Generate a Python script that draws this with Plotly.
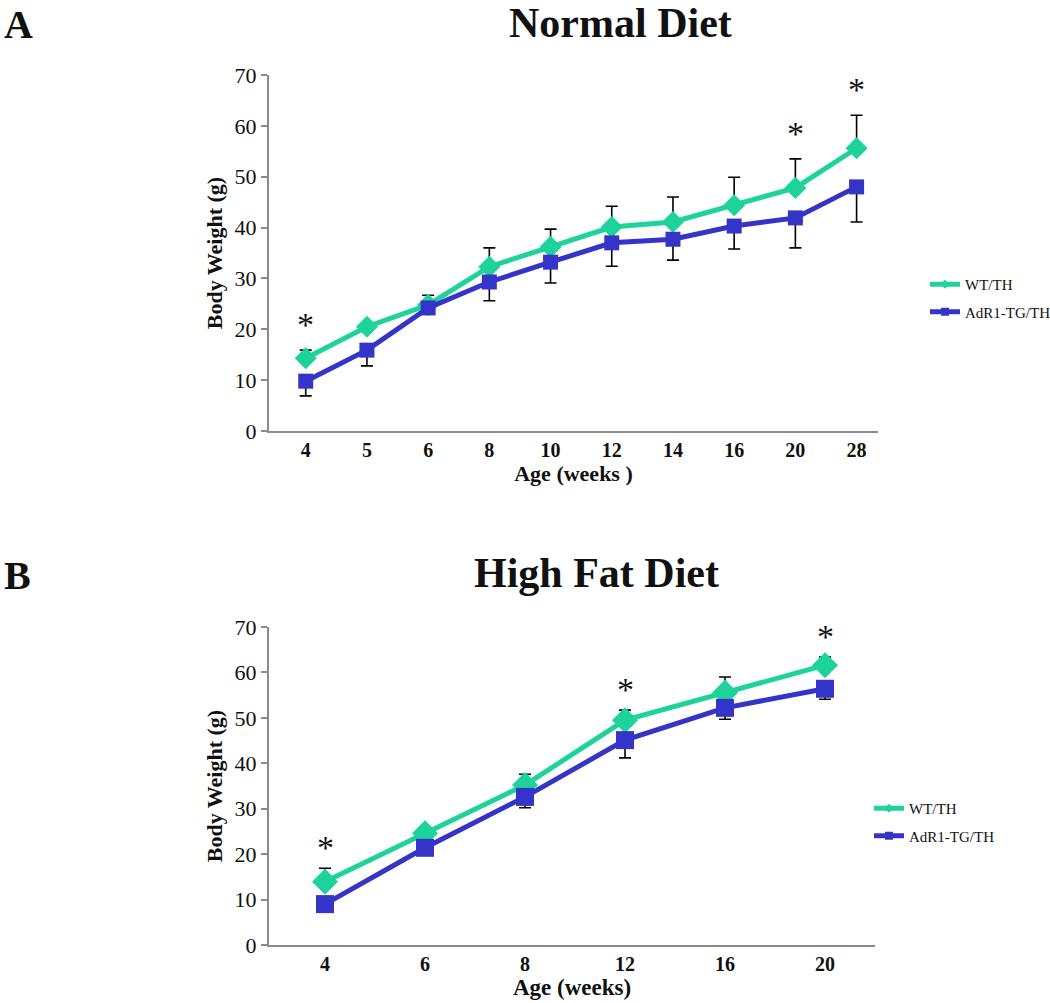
import plotly.graph_objects as go

# ---------------- data ----------------
ages_nd = ["4", "5", "6", "8", "10", "12", "14", "16", "20", "28"]
wt_nd = [14.3, 20.5, 24.8, 32.3, 36.2, 40.1, 41.1, 44.4, 47.8, 55.6]
wt_nd_err = [1.6, 0.0, 1.9, 3.7, 3.5, 4.1, 4.9, 5.5, 5.7, 6.5]
tg_nd = [9.8, 15.9, 24.2, 29.3, 33.2, 37.0, 37.7, 40.3, 41.9, 48.0]
tg_nd_err = [2.9, 3.1, 0.0, 3.7, 4.1, 4.6, 4.1, 4.5, 5.9, 6.9]
sig_nd = ["4", "20", "28"]

ages_hfd = ["4", "6", "8", "12", "16", "20"]
wt_hfd = [13.9, 24.6, 35.2, 49.5, 55.5, 61.6]
wt_hfd_err = [3.0, 0.0, 2.4, 2.2, 3.5, 1.8]
tg_hfd = [9.0, 21.4, 32.6, 45.1, 52.2, 56.4]
tg_hfd_err = [0.0, 0.0, 2.4, 3.9, 2.5, 2.3]
sig_hfd = ["4", "12", "20"]

y_ticks = [0, 10, 20, 30, 40, 50, 60, 70]

# ---------------- style ----------------
GREEN = "#1ed39b"
BLUE = "#3434c8"
SERIF = "Liberation Serif, Times New Roman, serif"
W, H = 1050, 1003

def px_x(p):
    return p / W

def px_y(p):
    return 1 - p / H

fig = go.Figure()

def add_pair(x, wt, wt_err, tg, tg_err, xa, ya, legend, msize):
    fig.add_trace(go.Scatter(
        x=x, y=wt, name="WT/TH", mode="lines+markers",
        xaxis=xa, yaxis=ya, showlegend=False,
        line=dict(color=GREEN, width=5),
        marker=dict(symbol="diamond", size=msize + 2, color=GREEN),
        error_y=dict(type="data", symmetric=False, array=wt_err,
                     arrayminus=[0] * len(wt_err), color="black",
                     thickness=1.6, width=6),
    ))
    fig.add_trace(go.Scatter(
        x=x, y=tg, name="AdR1-TG/TH", mode="lines+markers",
        xaxis=xa, yaxis=ya, showlegend=False,
        line=dict(color=BLUE, width=5),
        marker=dict(symbol="square", size=msize, color=BLUE),
        error_y=dict(type="data", symmetric=False, array=[0] * len(tg_err),
                     arrayminus=tg_err, color="black",
                     thickness=1.6, width=6),
    ))
    # legend-only entries with small markers (as in the original legend)
    fig.add_trace(go.Scatter(
        x=[None], y=[None], name="WT/TH", mode="lines+markers",
        xaxis=xa, yaxis=ya, legend=legend, legendgroup=legend + "a",
        line=dict(color=GREEN, width=5),
        marker=dict(symbol="diamond", size=7, color=GREEN),
    ))
    fig.add_trace(go.Scatter(
        x=[None], y=[None], name="AdR1-TG/TH", mode="lines+markers",
        xaxis=xa, yaxis=ya, legend=legend, legendgroup=legend + "b",
        line=dict(color=BLUE, width=5),
        marker=dict(symbol="square", size=8, color=BLUE),
    ))

add_pair(ages_nd, wt_nd, wt_nd_err, tg_nd, tg_nd_err, "x", "y", "legend", 15)
add_pair(ages_hfd, wt_hfd, wt_hfd_err, tg_hfd, tg_hfd_err, "x2", "y2", "legend2", 18)

# significance stars
for cat in sig_nd:
    i = ages_nd.index(cat)
    fig.add_annotation(x=i, y=wt_nd[i] + wt_nd_err[i] + 5.0, xref="x", yref="y",
                       text="*", showarrow=False,
                       font=dict(family=SERIF, size=34, color="#111"))
for cat in sig_hfd:
    i = ages_hfd.index(cat)
    fig.add_annotation(x=i, y=wt_hfd[i] + wt_hfd_err[i] + 4.5, xref="x2", yref="y2",
                       text="*", showarrow=False,
                       font=dict(family=SERIF, size=34, color="#111"))

# titles
for txt, xp, yp, sz in [("Normal Diet", 620, 23, 42), ("High Fat Diet", 596, 573, 42)]:
    fig.add_annotation(x=px_x(xp), y=px_y(yp), xref="paper", yref="paper",
                       text=f"<b>{txt}</b>", showarrow=False,
                       xanchor="center", yanchor="middle",
                       font=dict(family=SERIF, size=sz, color="#111"))
# panel letters
for txt, yp in [("A", 0), ("B", 551)]:
    fig.add_annotation(x=px_x(2), y=px_y(yp), xref="paper", yref="paper",
                       text=f"<b>{txt}</b>", showarrow=False,
                       xanchor="left", yanchor="top",
                       font=dict(family=SERIF, size=40, color="#111"))

axis_common = dict(showline=True, linecolor="#8c8c8c", linewidth=2,
                   showgrid=False, zeroline=False, automargin=False)

xt = dict(family=SERIF, size=20, color="#111")
yt = dict(family=SERIF, size=22, color="#111")

fig.update_layout(
    width=W, height=H, margin=dict(l=0, r=0, t=0, b=0, autoexpand=False),
    paper_bgcolor="white", plot_bgcolor="white",
    showlegend=True,
    xaxis=dict(domain=[px_x(269), px_x(878)], anchor="y", type="category",
               range=[-0.6, 9.35], ticks="", tickfont=xt,
               tickprefix="<b>", ticksuffix="</b>",
               title=dict(text="<b>Age (weeks )</b>", font=dict(family=SERIF, size=22, color="#111"),
                          standoff=4),
               **axis_common),
    yaxis=dict(domain=[px_y(431), px_y(75)], anchor="x", range=[0, 70],
               tickvals=y_ticks, ticks="outside", ticklen=6, tickcolor="#8c8c8c",
               tickwidth=2, tickfont=yt,
               title=dict(text="<b>Body Weight (g)</b>", font=dict(family=SERIF, size=22, color="#111"),
                          standoff=6),
               **axis_common),
    xaxis2=dict(domain=[px_x(269), px_x(875)], anchor="y2", type="category",
                range=[-0.56, 5.5], ticks="", tickfont=xt,
                tickprefix="<b>", ticksuffix="</b>",
                title=dict(text="<b>Age (weeks)</b>", font=dict(family=SERIF, size=23, color="#111"),
                           standoff=2),
                **axis_common),
    yaxis2=dict(domain=[px_y(945), px_y(627)], anchor="x2", range=[0, 70],
                tickvals=y_ticks, ticks="outside", ticklen=6, tickcolor="#8c8c8c",
                tickwidth=2, tickfont=yt,
                title=dict(text="<b>Body Weight (g)</b>", font=dict(family=SERIF, size=22, color="#111"),
                           standoff=6),
                **axis_common),
    legend=dict(x=px_x(925), y=px_y(268), xanchor="left", yanchor="top",
                font=dict(family=SERIF, size=15, color="#111"),
                bgcolor="rgba(0,0,0,0)", tracegroupgap=5, itemwidth=30),
    legend2=dict(x=px_x(869), y=px_y(792), xanchor="left", yanchor="top",
                 font=dict(family=SERIF, size=15, color="#111"),
                 bgcolor="rgba(0,0,0,0)", tracegroupgap=5, itemwidth=30),
)

fig.write_html("out.html", config={"displayModeBar": False},
               post_script="document.body.style.margin='0';")
